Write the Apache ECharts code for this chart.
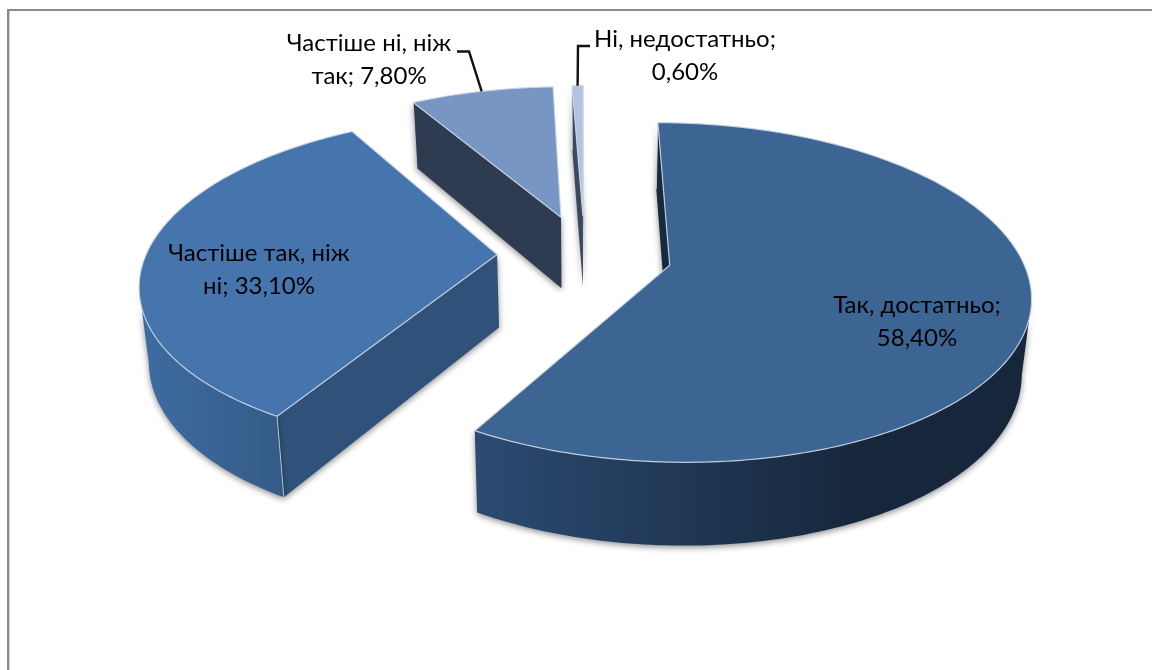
<!DOCTYPE html>
<html><head><meta charset="utf-8">
<style>html,body{margin:0;padding:0;background:#fff}#c{width:1152px;height:670px}</style>
<script src="https://cdn.jsdelivr.net/npm/echarts@6/dist/echarts.min.js"></script>
</head><body><div id="c"></div>
<script>
// ---- data ----
const categories = ['Так, достатньо', 'Частіше так, ніж ні', 'Частіше ні, ніж так', 'Ні, недостатньо'];
const values = [58.4, 33.1, 7.8, 0.6];
const labelLines = [
  ['Так, достатньо;', '58,40%'],
  ['Частіше так, ніж', 'ні; 33,10%'],
  ['Частіше ні, ніж', 'так; 7,80%'],
  ['Ні, недостатньо;', '0,60%']
];
// ---- style / layout ----
const topColors = ['#3C6593', '#4675AE', '#7896C4', '#B1C3E0'];
const radialColors = ['#16293F', '#30527A', '#2F3B50', '#3C4A60'];
const outerStops = [
  ['#2C4A72', '#16273B'],
  ['#3E6CA2', '#345A85'],
  ['#5F7CA8', '#5F7CA8'],
  ['#8FA3C4', '#8FA3C4']
];
const outerRange = [[477, 860], [140, 290], [412, 553], [572, 584]];
const labelPos = [[917, 322], [259, 270], [369, 60], [685, 55.5]];
const elbow = [null, null, [[457, 51.5], [469, 51.5]], [[590, 46], [578, 46]]];
const view = {cx: 584.5, cy: 254.5, A: 351, B: 162, H: 73, k: 0.159, explode: 0.249, taper: 0.022};
const fontFamily = 'Lato, "Open Sans", "Noto Sans", sans-serif';

const total = values.reduce((a, b) => a + b, 0);
const project = (X, Y, Z) => {
  const s = 1 / (1 - view.k * Y), f = 1 - view.taper * Z;
  return [view.cx + view.A * X * s * f, view.cy + (view.B * Y * f + view.H * Z) * s];
};
// does a vertical wall with outward plan normal (nx,ny) at plan point (px,py) face the viewer?
const faces = (nx, ny, px, py) => nx * (0 - px) + ny * (1 / view.k - py) > 0;

function renderItem(params, api) {
  const i = params.dataIndex;
  const startV = api.value(1), val = api.value(2);
  const a0 = startV / total * 2 * Math.PI, a1 = (startV + val) / total * 2 * Math.PI;
  const mid = (a0 + a1) / 2;
  const ox = Math.sin(mid) * view.explode, oy = -Math.cos(mid) * view.explode;
  const rim = (a, z) => project(ox + Math.sin(a), oy - Math.cos(a), z);
  const n = Math.max(2, Math.ceil((a1 - a0) / (Math.PI / 180)));
  const top = [], visTop = [], visBottom = [];
  for (let j = 0; j <= n; j++) {
    const a = a0 + (a1 - a0) * j / n;
    top.push(rim(a, 0));
    if (faces(Math.sin(a), -Math.cos(a), ox + Math.sin(a), oy - Math.cos(a))) {
      visTop.push(rim(a, 0)); visBottom.push(rim(a, 1));
    }
  }
  const ap0 = project(ox, oy, 0), ap1 = project(ox, oy, 1);
  const base = (4 - i) * 10;
  const shadow = {shadowBlur: 6, shadowColor: 'rgba(0,0,0,0.45)', shadowOffsetY: 2};
  const children = [];
  const wall = (pts, fill, z) => children.push({type: 'polygon', z2: base + z, shape: {points: pts},
    style: Object.assign({fill: fill}, shadow)});
  const edge = (a) => {
    const t = rim(a, 0), b = rim(a, 1);
    children.push({type: 'line', z2: base + 2, shape: {x1: t[0], y1: t[1], x2: b[0], y2: b[1]},
      style: {stroke: 'rgba(205,215,228,0.8)', lineWidth: 1}});
  };
  // radial walls, only when they face the viewer
  if (faces(-Math.cos(a0), -Math.sin(a0), ox, oy)) { wall([ap0, rim(a0, 0), rim(a0, 1), ap1], radialColors[i], 0); edge(a0); }
  if (faces(Math.cos(a1), Math.sin(a1), ox, oy)) { wall([ap0, rim(a1, 0), rim(a1, 1), ap1], radialColors[i], 0); edge(a1); }
  if (visTop.length > 1) {
    wall(visTop.concat(visBottom.slice().reverse()), {
      type: 'linear', global: true, x: outerRange[i][0], y: 0, x2: outerRange[i][1], y2: 0,
      colorStops: [{offset: 0, color: outerStops[i][0]}, {offset: 1, color: outerStops[i][1]}]
    }, 1);
  }
  children.push({type: 'polygon', z2: base + 3, shape: {points: [ap0].concat(top)},
    style: {fill: topColors[i], stroke: 'rgba(205,215,228,0.9)', lineWidth: 1.2, lineJoin: 'round'}});
  if (elbow[i]) {
    const end = rim(mid, 0);
    children.push({type: 'polyline', z2: 90, shape: {points: elbow[i].concat([end])},
      style: {stroke: '#111', lineWidth: 2.4, fill: null}});
  }
  children.push({type: 'text', z2: 100, style: {
    text: labelLines[i].join('\n'), x: labelPos[i][0], y: labelPos[i][1],
    textAlign: 'center', textVerticalAlign: 'middle',
    fontFamily: fontFamily, fontSize: 24, lineHeight: 33, fill: '#000'
  }});
  return {type: 'group', children: children};
}

let running = 0;
const rows = values.map((v, i) => { const r = [i, running, v]; running += v; return r; });

const chart = echarts.init(document.getElementById('c'), null, {renderer: 'canvas'});
chart.setOption({
  animation: false,
  backgroundColor: '#fff',
  graphic: [
    {type: 'line', shape: {x1: 7, y1: 10, x2: 1152, y2: 10}, style: {stroke: '#8a8a8a', lineWidth: 2}},
    {type: 'line', shape: {x1: 8, y1: 9, x2: 8, y2: 670}, style: {stroke: '#8a8a8a', lineWidth: 2}},
    {type: 'line', shape: {x1: 9.5, y1: 11, x2: 9.5, y2: 670}, style: {stroke: '#d0d0d0', lineWidth: 1}}
  ],
  series: [{
    type: 'custom', coordinateSystem: 'none', renderItem: renderItem,
    data: rows, name: categories.join(' / ')
  }]
});
</script></body></html>
